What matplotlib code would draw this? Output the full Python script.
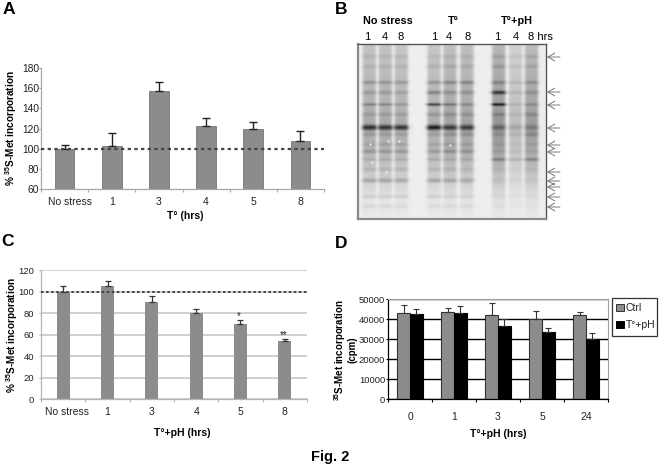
#!/usr/bin/env python3
"""
Fig. 2: 35S-Met incorporation bar charts and the gel panel.
"""

import numpy as np
import matplotlib
matplotlib.use('Agg')
import matplotlib.pyplot as plt
from matplotlib.patches import Rectangle
from matplotlib.transforms import ScaledTranslation

plt.rcParams['font.family'] = ['Liberation Sans', 'DejaVu Sans']
plt.rcParams['mathtext.fontset'] = 'custom'
plt.rcParams['mathtext.rm'] = 'Liberation Sans'
plt.rcParams['mathtext.bf'] = 'Liberation Sans:bold'

W, H = 660, 469

# Panel A
a_labels = ['No stress', '1', '3', '4', '5', '8']
a_values = [100, 103, 157, 122, 120, 108]
a_errors = [4, 13, 9, 8, 6, 10]

# Panel C
c_labels = ['No stress', '1', '3', '4', '5', '8']
c_values = [100, 105, 90, 80, 70, 54]
c_errors = [5, 4.5, 5.5, 3.5, 3.5, 1.5]
c_marks = ['', '', '', '', '*', '**']

# Panel D
d_labels = ['0', '1', '3', '5', '24']
d_ctrl = [43000, 43700, 42000, 40000, 42000]
d_ctrl_err = [4000, 1600, 5800, 4200, 1500]
d_stress = [42500, 43000, 36500, 33300, 30000]
d_stress_err = [2300, 3500, 3300, 2000, 2800]

# Panel B gel: lane centres and band rows in figure pixels
lane_x = [369, 385, 401, 434, 450, 467, 499, 516, 532]
lane_top_label = ['1', '4', '8', '1', '4', '8', '1', '4', '8 hrs']
lane_label_x = [367, 385, 401, 434, 449, 468, 497, 516, 531]
band_y = [57, 67, 83, 93, 105, 115, 128, 135, 145, 152, 160, 170, 181, 197, 207]
band_w = [2, 2, 2, 2, 1.5, 2, 2.6, 2, 2, 2, 1.7, 2, 2.2, 1.8, 1.8]
band_strength = [
    [.08, .08, .20, .16, .26, .12, .70, .12, .10, .18, .10, .10, .24, .10, .08],
    [.08, .08, .20, .16, .24, .12, .66, .12, .10, .18, .10, .10, .24, .10, .08],
    [.08, .08, .18, .14, .18, .12, .68, .12, .10, .18, .10, .10, .22, .10, .07],
    [.06, .10, .20, .30, .58, .16, .80, .12, .10, .16, .12, .10, .24, .10, .07],
    [.08, .12, .24, .20, .30, .16, .60, .14, .10, .20, .10, .10, .22, .08, .07],
    [.08, .10, .26, .18, .20, .14, .60, .14, .10, .18, .10, .08, .20, .08, .07],
    [.12, .14, .22, .60, .68, .16, .30, .10, .06, .06, .26, .05, .05, .04, .03],
    [.06, .06, .10, .10, .10, .08, .14, .08, .04, .05, .12, .03, .03, .03, .02],
    [.10, .10, .18, .16, .16, .14, .20, .16, .06, .06, .26, .05, .05, .04, .02],
]
lane_smear = [.38, .38, .36, .36, .42, .42, .50, .27, .46]
smear_y = [46, 90, 125, 150, 180, 200, 219]
smear_level = [.62, .8, 1.0, .85, .45, .16, .07]
speck_x = [370, 388, 399, 372, 386, 450]
speck_y = [145, 142, 142, 163, 173, 146]
arrow_y = [57, 92, 105, 128, 145, 152, 172, 181, 187, 197, 207]


def px_axes(fig, left, top, right, bottom):
    return fig.add_axes([left / W, 1 - bottom / H, (right - left) / W, (bottom - top) / H])


def style_bar_axes(ax, labels, edge, tick_size, y_size, y_pad):
    n = len(labels)
    ax.set_xlim(0, n)
    ax.set_xticks(np.arange(n + 1))
    ax.set_xticklabels([])
    ax.set_xticks(np.arange(n) + 0.5, minor=True)
    ax.set_xticklabels(labels, minor=True, fontsize=tick_size, color='#222222')
    ax.tick_params(axis='x', which='minor', length=0, pad=6)
    ax.tick_params(axis='x', which='major', length=2.5, color=edge, width=0.8)
    ax.tick_params(axis='y', length=1.5, color=edge, width=0.8,
                   labelsize=y_size, labelcolor='#222222', pad=y_pad)
    for side in ['top', 'right']:
        ax.spines[side].set_visible(False)
    for side in ['left', 'bottom']:
        ax.spines[side].set_color(edge)
        ax.spines[side].set_linewidth(0.9)


def nudge_first_label(ax, fig, px):
    # the first label sits a little right of its bar in the original
    label = ax.get_xticklabels(minor=True)[0]
    label.set_transform(label.get_transform() + ScaledTranslation(px / 100, 0, fig.dpi_scale_trans))


def draw_gel(ax):
    xs = np.arange(358, 547)
    ys = np.arange(44, 220)
    img = np.full((len(ys), len(xs)), 0.93)
    for i, cx in enumerate(lane_x):
        across = np.exp(-((xs - cx) / 7.0) ** 6)
        down = np.interp(ys, smear_y, np.array(smear_level) * lane_smear[i])
        down = np.where(ys < 46, 0, down)
        bands = np.zeros(len(ys))
        for y0, s, w in zip(band_y, band_strength[i], band_w):
            bands = bands + s * np.exp(-((ys - y0) / w) ** 2)
        # bands spill slightly wider than the smear
        wide = np.exp(-((xs - cx) / 8.6) ** 4)
        img -= (np.outer(down, across) + np.outer(bands, 0.4 * across + 0.6 * wide)) * 0.7
    ax.imshow(np.clip(img, 0, 1), cmap='gray', vmin=0, vmax=1, aspect='auto',
              extent=[358, 547, 220, 44], interpolation='bilinear')
    ax.scatter(speck_x, speck_y, s=3, color='white', alpha=0.7, linewidths=0, zorder=3)
    ax.set_xlim(358, 547)
    ax.set_ylim(220, 44)
    ax.set_xticks([])
    ax.set_yticks([])
    for side, col, lw in [('left', '#8a8a8a', 1.6), ('bottom', '#8a8a8a', 1.6),
                          ('top', '#555555', 1.0), ('right', '#555555', 1.0)]:
        ax.spines[side].set_color(col)
        ax.spines[side].set_linewidth(lw)


def main():
    fig = plt.figure(figsize=(W / 100, H / 100), dpi=100)

    # overlay in pixel coordinates for free text
    over = fig.add_axes([0, 0, 1, 1], zorder=5)
    over.set_xlim(0, W)
    over.set_ylim(H, 0)
    over.axis('off')
    for letter, x, y in [('A', 9, 10), ('B', 341, 10), ('C', 8, 242), ('D', 341, 243)]:
        over.text(x, y, letter, fontsize=12.5, fontweight='bold', ha='center', va='center')
    over.text(330, 457, 'Fig. 2', fontsize=10.5, fontweight='bold', ha='center', va='center')

    # Panel A
    ax = px_axes(fig, 41, 68, 324, 189)
    x = np.arange(len(a_values)) + 0.5
    ax.bar(x, a_values, width=0.42, color='#8c8c8c', edgecolor='#777777', linewidth=0.6, zorder=2)
    ax.errorbar(x, a_values, yerr=[np.zeros(len(a_errors)), a_errors], fmt='none',
                ecolor='#222222', elinewidth=1.0, capsize=3, capthick=1.0, zorder=3)
    ax.axhline(100, color='#444444', linestyle=(0, (1.5, 1.5)), linewidth=1.6, zorder=4, clip_on=False)
    ax.set_ylim(60, 180)
    ax.set_yticks(range(60, 181, 20))
    style_bar_axes(ax, a_labels, '#a8a8a8', 7.5, 7.4, 0)
    nudge_first_label(ax, fig, 5)
    over.text(11, 128, r'% $^{\mathbf{35}}$S-Met incorporation', fontsize=7.2, fontweight='bold',
              rotation=90, ha='center', va='center')
    over.text(185, 216, 'T° (hrs)', fontsize=7.5, fontweight='bold', ha='center', va='center')

    # Panel B
    ax = px_axes(fig, 358, 44, 546, 219)
    draw_gel(ax)
    for txt, gx in [('No stress', 388), ('T°', 453), ('T°+pH', 517)]:
        over.text(gx, 21, txt, fontsize=7.8, fontweight='bold', ha='center', va='center')
    for txt, lx in zip(lane_top_label, lane_label_x):
        if txt == '8 hrs':
            over.text(lx - 3, 37.5, txt, fontsize=8, ha='left', va='center')
        else:
            over.text(lx, 37.5, txt, fontsize=8, ha='center', va='center')
    for ay in arrow_y:
        over.annotate('', xy=(547, ay), xytext=(560, ay),
                      arrowprops=dict(arrowstyle='->,head_length=0.5,head_width=0.28', mutation_scale=10,
                                      color='#666666', linewidth=0.6, shrinkA=0, shrinkB=0))

    # Panel C
    ax = px_axes(fig, 41, 270, 307, 399)
    x = np.arange(len(c_values)) + 0.5
    ax.yaxis.grid(True, color='#c4c4c4', linewidth=1.1, zorder=0)
    ax.set_axisbelow(True)
    ax.bar(x, c_values, width=0.29, color='#8c8c8c', zorder=2)
    ax.errorbar(x, c_values, yerr=[np.zeros(len(c_errors)), c_errors], fmt='none',
                ecolor='#333333', elinewidth=0.9, capsize=2.5, capthick=0.9, zorder=3)
    ax.axhline(100, color='#444444', linestyle=(0, (1.3, 1.3)), linewidth=1.4, zorder=4)
    for xi, val, err, mark in zip(x, c_values, c_errors, c_marks):
        if mark:
            ax.text(xi - 0.03, val + err + 4, mark, fontsize=7, ha='center', va='center', color='#222222')
    ax.set_ylim(0, 120)
    ax.set_yticks(range(0, 121, 20))
    style_bar_axes(ax, c_labels, '#b5b5b5', 7.5, 6.8, 3.5)
    nudge_first_label(ax, fig, 4)
    over.text(12, 335, r'% $^{\mathbf{35}}$S-Met incorporation', fontsize=7.2, fontweight='bold',
              rotation=90, ha='center', va='center')
    over.text(182, 433, 'T°+pH (hrs)', fontsize=7.5, fontweight='bold', ha='center', va='center')

    # Panel D
    ax = px_axes(fig, 388, 299, 608, 399)
    n = len(d_labels)
    x = np.arange(n) + 0.5
    bw = 0.29
    ax.yaxis.grid(True, color='black', linewidth=1.0, zorder=0)
    ax.set_axisbelow(True)
    ax.bar(x - bw / 2, d_ctrl, width=bw, color='#8c8c8c', edgecolor='#333333', linewidth=0.8, zorder=2)
    ax.bar(x + bw / 2, d_stress, width=bw, color='black', edgecolor='black', linewidth=0.8, zorder=2)
    ax.errorbar(x - bw / 2, d_ctrl, yerr=[np.zeros(n), d_ctrl_err], fmt='none',
                ecolor='#333333', elinewidth=0.8, capsize=2, capthick=0.8, zorder=3)
    ax.errorbar(x + bw / 2, d_stress, yerr=[np.zeros(n), d_stress_err], fmt='none',
                ecolor='#333333', elinewidth=0.8, capsize=2, capthick=0.8, zorder=3)
    ax.set_ylim(0, 50000)
    ax.set_yticks(range(0, 50001, 10000))
    style_bar_axes(ax, d_labels, 'black', 7.5, 6.8, 0.5)
    ax.tick_params(axis='x', which='minor', pad=9)
    ax.spines['top'].set_visible(True)
    ax.spines['right'].set_visible(True)
    ax.spines['top'].set_color('#a0a0a0')
    ax.spines['right'].set_color('#a0a0a0')
    # two separate lines so (cpm) stays clear of the tick labels
    over.text(340, 350, r'$^{\mathbf{35}}$S-Met incorporation', fontsize=7, fontweight='bold',
              rotation=90, ha='center', va='center')
    over.text(352, 350, '(cpm)', fontsize=7, fontweight='bold', rotation=90, ha='center', va='center')
    over.text(498, 434, 'T°+pH (hrs)', fontsize=7.5, fontweight='bold', ha='center', va='center')

    # legend box, kept inside the figure edge as in the original
    over.add_patch(Rectangle((612, 298), 45, 38, facecolor='white', edgecolor='#333333', linewidth=0.9))
    over.add_patch(Rectangle((616, 304.5), 7.5, 7, facecolor='#8c8c8c', edgecolor='#333333', linewidth=0.7))
    over.add_patch(Rectangle((616, 321.5), 7.5, 7, facecolor='black', edgecolor='black', linewidth=0.7))
    over.text(625.5, 308, 'Ctrl', fontsize=7.5, ha='left', va='center', color='#222222')
    over.text(625.5, 325, 'T°+pH', fontsize=7.5, ha='left', va='center', color='#222222')

    fig.savefig('out.png', dpi=100)


if __name__ == '__main__':
    main()
